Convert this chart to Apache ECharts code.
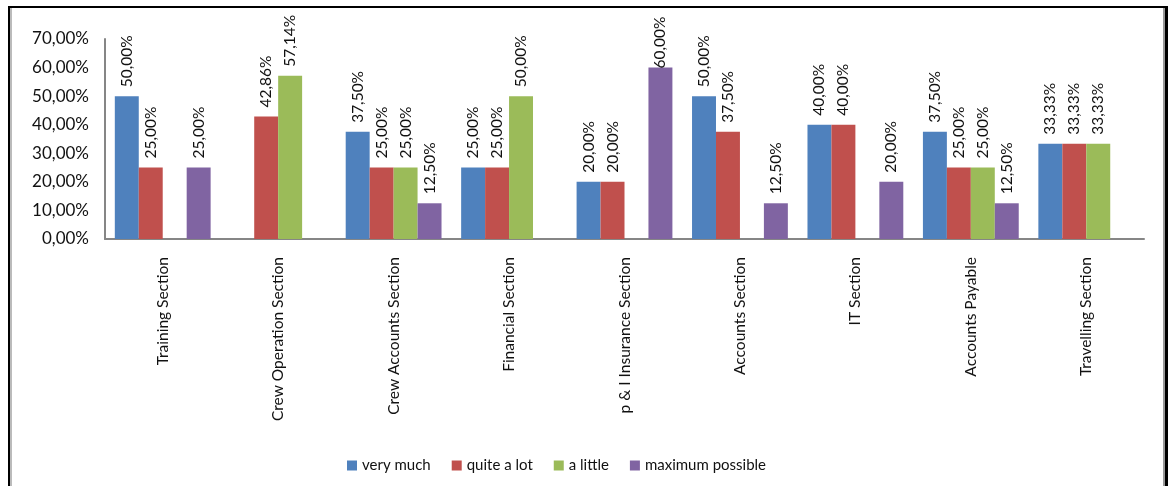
<!DOCTYPE html>
<html>
<head>
<meta charset="utf-8">
<script src="https://cdn.jsdelivr.net/npm/echarts@6/dist/echarts.min.js"></script>
<style>
html,body{margin:0;padding:0;background:#fff;}
#frame{position:absolute;left:8px;top:6px;width:1155px;height:500px;border-top:2px solid #000;border-left:2px solid #000;border-right:3px solid #000;box-shadow:inset 2px 0 0 #bbb, inset -2px 0 0 #999;}
#chart{position:absolute;left:0;top:0;width:1168px;height:486px;}
</style>
</head>
<body>
<div id="frame"></div>
<div id="chart"></div>
<script>
const categories = ['Training Section','Crew Operation Section','Crew Accounts Section','Financial Section','p & I Insurance Section','Accounts Section','IT Section','Accounts Payable','Travelling Section'];
const veryMuch = [50, null, 37.5, 25, 20, 50, 40, 37.5, 33.33];
const quiteALot = [25, 42.86, 25, 25, 20, 37.5, 40, 25, 33.33];
const aLittle = [null, 57.14, 25, 50, null, null, null, 25, 33.33];
const maximumPossible = [25, null, 12.5, null, 60, 12.5, 20, 12.5, null];
const seriesNames = ['very much','quite a lot','a little','maximum possible'];
const yTicks = [0,10,20,30,40,50,60,70];

const colors = ['#4F81BD','#C0504D','#9BBB59','#8064A2'];
const fmt = v => v.toFixed(2).replace('.', ',') + '%';
const font = 'Lato, "Open Sans", sans-serif';

const chart = echarts.init(document.getElementById('chart'), null, {renderer:'canvas'});
const mk = (name, data, i) => ({
  name, type:'bar',
  // labels that would run past the top edge are pushed down into the bar, as in the source
  data: data.map(v => (v != null && v >= 58) ? {value:v, label:{distance:-1}} : v),
  barGap:'0%', barCategoryGap:'17%',
  itemStyle:{color:colors[i]},
  label:{show:true, position:'top', rotate:90, align:'left', verticalAlign:'middle', distance:9,
    fontFamily:font, fontSize:15.5, color:'#111',
    formatter:p => p.value == null ? '' : fmt(p.value)}
});
chart.setOption({
  animation:false,
  textStyle:{fontFamily:font},
  grid:{left:105, right:24, top:39, bottom:247, containLabel:false},
  legend:{top:453, left:342, icon:'rect', itemWidth:10, itemHeight:10, itemGap:21,
    textStyle:{fontFamily:font, fontSize:15, color:'#111'}, data:seriesNames},
  xAxis:{type:'category', data:categories,
    axisLine:{lineStyle:{color:'#868686', width:2}}, axisTick:{show:false},
    axisLabel:{rotate:90, margin:18, fontFamily:font, fontSize:15.5, color:'#111', interval:0}},
  yAxis:{type:'value', min:yTicks[0], max:yTicks[yTicks.length-1], interval:10,
    splitLine:{show:false},
    axisLine:{show:true, lineStyle:{color:'#868686', width:2}}, axisTick:{show:false},
    axisLabel:{margin:16, fontFamily:font, fontSize:17, color:'#111', formatter:v => fmt(v)}},
  series:[mk(seriesNames[0], veryMuch, 0), mk(seriesNames[1], quiteALot, 1), mk(seriesNames[2], aLittle, 2), mk(seriesNames[3], maximumPossible, 3)]
});
</script>
</body>
</html>
